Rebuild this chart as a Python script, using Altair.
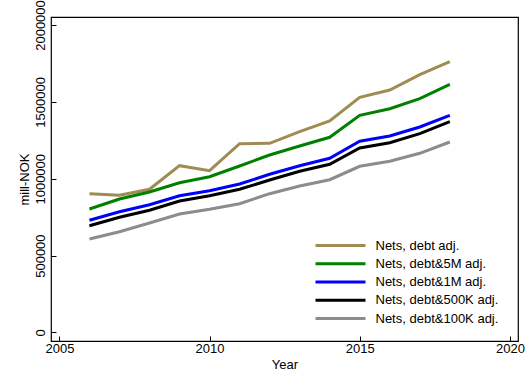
import altair as alt
import pandas as pd

years = list(range(2006, 2019))
debt_adj = [902800, 892300, 931400, 1084900, 1052300, 1228000, 1230600, 1306000, 1375600, 1529700, 1577200, 1676700, 1761300]
debt_5m = [803200, 868300, 913800, 974300, 1013300, 1082900, 1154500, 1213000, 1269600, 1412700, 1455600, 1520600, 1614300]
debt_1m = [729700, 785700, 831200, 889700, 922300, 965800, 1028900, 1084900, 1133000, 1243600, 1278000, 1336600, 1412700]
debt_500k = [694600, 749300, 794800, 855300, 889700, 931400, 991900, 1048400, 1094000, 1200000, 1234500, 1293000, 1371000]
debt_100k = [608100, 655600, 712200, 770700, 801300, 837700, 902800, 952800, 993800, 1081000, 1113500, 1165500, 1239000]

series_names = ["Nets, debt adj.", "Nets, debt&5M adj.", "Nets, debt&1M adj.",
                "Nets, debt&500K adj.", "Nets, debt&100K adj."]
series_colors = ["#A08B52", "#008000", "#0000FF", "#000000", "#8C8C8C"]
x_ticks = [2005, 2010, 2015, 2020]
y_ticks = [0, 500000, 1000000, 1500000, 2000000]

all_series = [debt_adj, debt_5m, debt_1m, debt_500k, debt_100k]
rows = []
for name, vals in zip(series_names, all_series):
    for yr, v in zip(years, vals):
        rows.append({"Year": yr, "value": v, "series": name})
df = pd.DataFrame(rows)

FONT = "Liberation Sans"

chart = alt.Chart(df).mark_line(strokeWidth=3).encode(
    x=alt.X("Year:Q",
            scale=alt.Scale(domain=[2004.72, 2020.27], nice=False, zero=False),
            axis=alt.Axis(values=x_ticks, format="d", title="Year", offset=-5,
                          tickSize=5, domain=False, grid=False, labelPadding=1,
                          titlePadding=3)),
    y=alt.Y("value:Q",
            scale=alt.Scale(domain=[-55300, 2052000], nice=False, zero=False),
            axis=alt.Axis(values=y_ticks, format="d", title="mill-NOK", offset=-5,
                          tickSize=5, domain=False, grid=False, labelAngle=270,
                          labelAlign="center", labelBaseline="bottom", labelPadding=4,
                          titlePadding=3)),
    color=alt.Color("series:N",
                    scale=alt.Scale(domain=series_names, range=series_colors),
                    legend=alt.Legend(orient="none", legendX=283, legendY=222, title=None,
                                      symbolType="M-5,0H5", symbolSize=100,
                                      symbolStrokeWidth=3, symbolOffset=0,
                                      labelOffset=28.5, rowPadding=4.25, padding=0,
                                      labelLimit=0, labelFont=FONT, labelFontSize=13,
                                      labelColor="black")),
    order=alt.Order("series:N"),
).properties(
    width=467, height=324,
    autosize=alt.AutoSizeParams(type="none"),
    padding={"left": 51, "top": 17, "right": 9, "bottom": 45},
    background="white",
).configure_view(
    stroke="black", strokeWidth=1.2
).configure_axis(
    labelFont=FONT, titleFont=FONT, labelFontSize=13, titleFontSize=13,
    titleFontWeight="normal", labelColor="black", titleColor="black",
    tickColor="black", tickWidth=1
)

chart.save("out.html", embed_options={"renderer": "svg", "actions": False})
